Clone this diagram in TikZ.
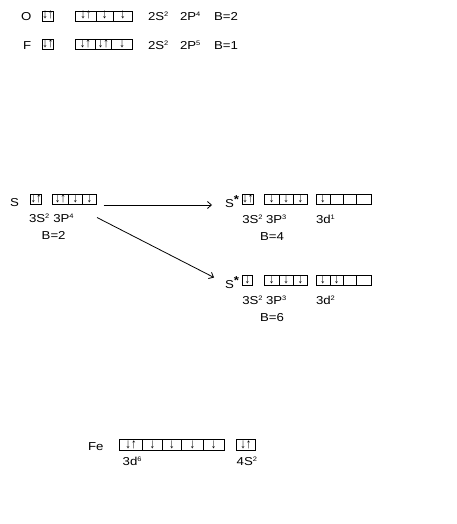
\documentclass[tikz,border=0pt]{standalone}
\usepackage{fontspec}
\setmainfont{Liberation Sans}[FakeStretch=1.15]
\newfontfamily\arrfont{Liberation Sans}
\usetikzlibrary{positioning, arrows.meta}

\newcommand{\du}{\raisebox{0.8pt}{\scalebox{0.85}[1.05]{↓↑}}}
\newcommand{\dn}{\raisebox{0.8pt}{\scalebox{0.85}[1.05]{↓}}}
\newcommand{\sups}[1]{\raisebox{4pt}{\fontsize{6.5}{7}\selectfont #1}}

\begin{document}
\begin{tikzpicture}[x=1pt, y=-1pt, >={Straight Barb[length=4pt, width=7pt]}, line width=0.8pt, font=\fontsize{11.5}{13}\selectfont]
\useasboundingbox (0,0) rectangle (456,524);

\tikzstyle{every node}=[inner sep=0, outer sep=0]
\tikzstyle{orb}=[draw, minimum height=10pt, text height=8pt, text depth=1pt, anchor=west, font=\arrfont\fontsize{13}{13}\selectfont]
\tikzstyle{txt}=[anchor=base west]

% oxygen
\draw (21,20.5) node[txt] (o) {O};
\draw (42.3,16.2) node[orb, minimum width=10pt] (os) {\du};
\draw (75.7,16.2) node[orb, minimum width=20.3pt] (opa) {\du};
\node[orb, minimum width=17.3pt, right=0pt of opa] (opb) {\dn};
\node[orb, minimum width=19.3pt, right=0pt of opb] (opc) {\dn};
\draw (148,20.5) node[txt] (oconf) {2S\sups{2}}
      (180,20.5) node[txt] (oconp) {2P\sups{4}}
      (214,20.5) node[txt] (ob) {B=2};

% fluorine
\draw (23,49.2) node[txt] (f) {F};
\draw (42.3,44.7) node[orb, minimum width=10pt] (fs) {\du};
\draw (75.7,44.7) node[orb, minimum width=19.3pt] (fpa) {\du};
\node[orb, minimum width=16.7pt, right=0pt of fpa] (fpb) {\du};
\node[orb, minimum width=21pt, right=0pt of fpb] (fpc) {\dn};
\draw (148,49.2) node[txt] (fconf) {2S\sups{2}}
      (180,49.2) node[txt] (fconp) {2P\sups{5}}
      (214,49.2) node[txt] (fb) {B=1};

% sulfur, ground state
\draw (10,206) node[txt] (s) {S};
\draw (30.7,199.3) node[orb, minimum width=10pt] (ss) {\du};
\draw (52.3,199.3) node[orb, minimum width=16pt] (spa) {\du};
\node[orb, minimum width=14pt, right=0pt of spa] (spb) {\dn};
\node[orb, minimum width=14.4pt, right=0pt of spb] (spc) {\dn};
\draw (29,222) node[txt] (sls) {3S\sups{2}}
      (53.3,222) node[txt] (slp) {3P\sups{4}}
      (41.7,239) node[txt] (sb) {B=2};

% sulfur, first excited state
\draw (225,207) node[txt] (sa) {S\raisebox{3.5pt}{\textbf{*}}};
\draw (242.3,199.3) node[orb, minimum width=10pt] (sas) {\du};
\draw (264.3,199.3) node[orb, minimum width=14.7pt] (sapa) {\dn};
\node[orb, minimum width=14.3pt, right=0pt of sapa] (sapb) {\dn};
\node[orb, minimum width=14.4pt, right=0pt of sapb] (sapc) {\dn};
\draw (316,199.3) node[orb, minimum width=14pt] (sada) {\dn};
\node[orb, minimum width=13.3pt, right=0pt of sada] (sadb) {};
\node[orb, minimum width=13.3pt, right=0pt of sadb] (sadc) {};
\node[orb, minimum width=15pt, right=0pt of sadc] (sadd) {};
\draw (242.3,223) node[txt] (sals) {3S\sups{2}}
      (266,223) node[txt] (salp) {3P\sups{3}}
      (316,223) node[txt] (sald) {3d\sups{1}}
      (260,240) node[txt] (sab) {B=4};

% sulfur, second excited state
\draw (225,288) node[txt] (sb2) {S\raisebox{3.5pt}{\textbf{*}}};
\draw (242.3,280.3) node[orb, minimum width=10pt] (sbs) {\dn};
\draw (264.3,280.3) node[orb, minimum width=14.7pt] (sbpa) {\dn};
\node[orb, minimum width=14.3pt, right=0pt of sbpa] (sbpb) {\dn};
\node[orb, minimum width=14.4pt, right=0pt of sbpb] (sbpc) {\dn};
\draw (316,280.3) node[orb, minimum width=14pt] (sbda) {\dn};
\node[orb, minimum width=13.3pt, right=0pt of sbda] (sbdb) {\dn};
\node[orb, minimum width=13.3pt, right=0pt of sbdb] (sbdc) {};
\node[orb, minimum width=15pt, right=0pt of sbdc] (sbdd) {};
\draw (242.3,304) node[txt] (sbls) {3S\sups{2}}
      (266,304) node[txt] (sblp) {3P\sups{3}}
      (316,304) node[txt] (sbld) {3d\sups{2}}
      (260,321) node[txt] (sbb) {B=6};

% excitation arrows
\coordinate (e1) at (103.5,205);
\coordinate (e2) at (97,217.5);
\coordinate (x1) at (212,205);
\coordinate (x2) at (214,277.5);
\draw[->] (e1) -- (x1);
\draw[->] (e2) -- (x2);

% iron
\draw (88,450) node[txt] (fe) {Fe};
\draw (119.3,445.3) node[orb, minimum width=23.4pt, minimum height=11pt] (feda) {\du};
\node[orb, minimum width=19.3pt, minimum height=11pt, right=0pt of feda] (fedb) {\dn};
\node[orb, minimum width=19.7pt, minimum height=11pt, right=0pt of fedb] (fedc) {\dn};
\node[orb, minimum width=21.6pt, minimum height=11pt, right=0pt of fedc] (fedd) {\dn};
\node[orb, minimum width=20.7pt, minimum height=11pt, right=0pt of fedd] (fede) {\dn};
\draw (236.7,445.3) node[orb, minimum width=18.3pt, minimum height=11pt] (fes) {\du};
\draw (122.7,465) node[txt] (feld) {3d\sups{6}}
      (236.7,465) node[txt] (fels) {4S\sups{2}};

\end{tikzpicture}
\end{document}
